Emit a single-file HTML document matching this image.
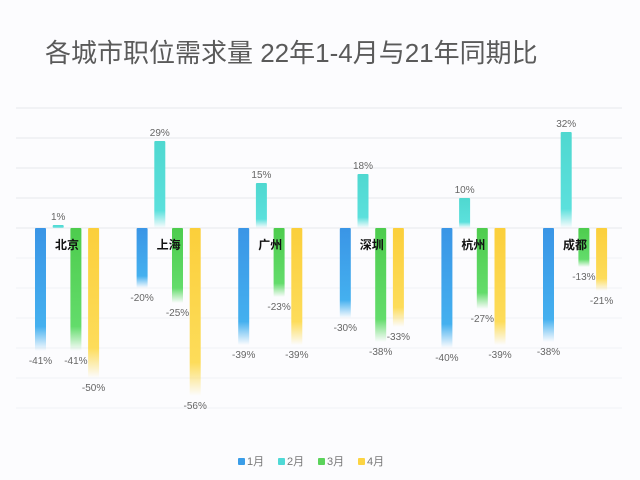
<!DOCTYPE html>
<html><head><meta charset="utf-8"><style>
body{margin:0;width:640px;height:475px;background:#fcfcfe;overflow:hidden;font-family:"Liberation Sans","Noto Sans CJK SC",sans-serif;}
</style></head><body>
<svg id="c" width="640" height="475" xmlns="http://www.w3.org/2000/svg">
<defs>
<linearGradient id="g0" x1="0" y1="0" x2="0" y2="1"><stop offset="0" stop-color="#3a95e6"/><stop offset="0.8" stop-color="#44b0ef"/><stop offset="1" stop-color="#44b0ef" stop-opacity="0"/></linearGradient>
<linearGradient id="g1" x1="0" y1="0" x2="0" y2="1"><stop offset="0" stop-color="#4fd8d0"/><stop offset="0.8" stop-color="#5be0dc"/><stop offset="1" stop-color="#5be0dc" stop-opacity="0"/></linearGradient>
<linearGradient id="g2" x1="0" y1="0" x2="0" y2="1"><stop offset="0" stop-color="#4dcc4d"/><stop offset="0.8" stop-color="#63dc6b"/><stop offset="1" stop-color="#63dc6b" stop-opacity="0"/></linearGradient>
<linearGradient id="g3" x1="0" y1="0" x2="0" y2="1"><stop offset="0" stop-color="#fbcf3b"/><stop offset="0.8" stop-color="#fddc5a"/><stop offset="1" stop-color="#fddc5a" stop-opacity="0"/></linearGradient>
</defs>
<text x="45" y="62" font-size="26" fill="#5a5a5a">各城市职位需求量 22年1-4月与21年同期比</text>
<g id="grid"></g><g id="bars"></g>
</svg>
<script>
const cities=["北京","上海","广州","深圳","杭州","成都"];
const m1=[-41,-20,-39,-30,-40,-38];
const m2=[1,29,15,18,10,32];
const m3=[-41,-25,-23,-38,-27,-13];
const m4=[-50,-56,-39,-33,-39,-21];
const seriesNames=["1月","2月","3月","4月"];
const series=[m1,m2,m3,m4];
const colors=["#3a9de8","#4fd9d6","#5bd35b","#fcd443"];
const NS="http://www.w3.org/2000/svg";
const y0=228,k=3;
function y(v){return y0-v*k;}
function gx(i){return 35+i*101.6;}
function mk(t,a,p){const e=document.createElementNS(NS,t);for(const q in a)e.setAttribute(q,a[q]);p.appendChild(e);return e;}
const grid=document.getElementById('grid'),bars=document.getElementById('bars');
for(let v=40;v>=-60;v-=10){
 const l=mk('line',{x1:16,x2:622,y1:y(v),y2:y(v),stroke:v>=0?'#e6e8ec':'#f1f2f5','stroke-width':1},grid);
 
 
}
cities.forEach((c,i)=>{
 series.forEach((s,j)=>{
  const v=s[i],x=gx(i)+j*17.7,h=Math.max(Math.abs(v)*k,3);
  const r=mk('rect',{x:x,y:v>=0?y0-h:y0,width:11,height:h,fill:'url(#g'+j+')',rx:1},bars);
  
  
  const t=mk('text',{x:x+5.5,y:v>=0?y0-h-5:y0+h+13,'text-anchor':'middle','font-size':10,fill:'#666'},bars);
  t.textContent=v+'%';
  
  
 });
 const ct=mk('text',{x:gx(i)+32,y:249,'text-anchor':'middle','font-size':12,'font-weight':'bold',fill:'#111'},bars);
 ct.textContent=c;
 
 
});
seriesNames.forEach((n,j)=>{
 const x=238+j*40;
 const r=mk('rect',{x:x,y:458,width:7,height:7,fill:colors[j],rx:1},bars);
 
 
 const t=mk('text',{x:x+9,y:465,'font-size':11,fill:'#777'},bars);
 t.textContent=n;
 
 
});
</script>
</body></html>
